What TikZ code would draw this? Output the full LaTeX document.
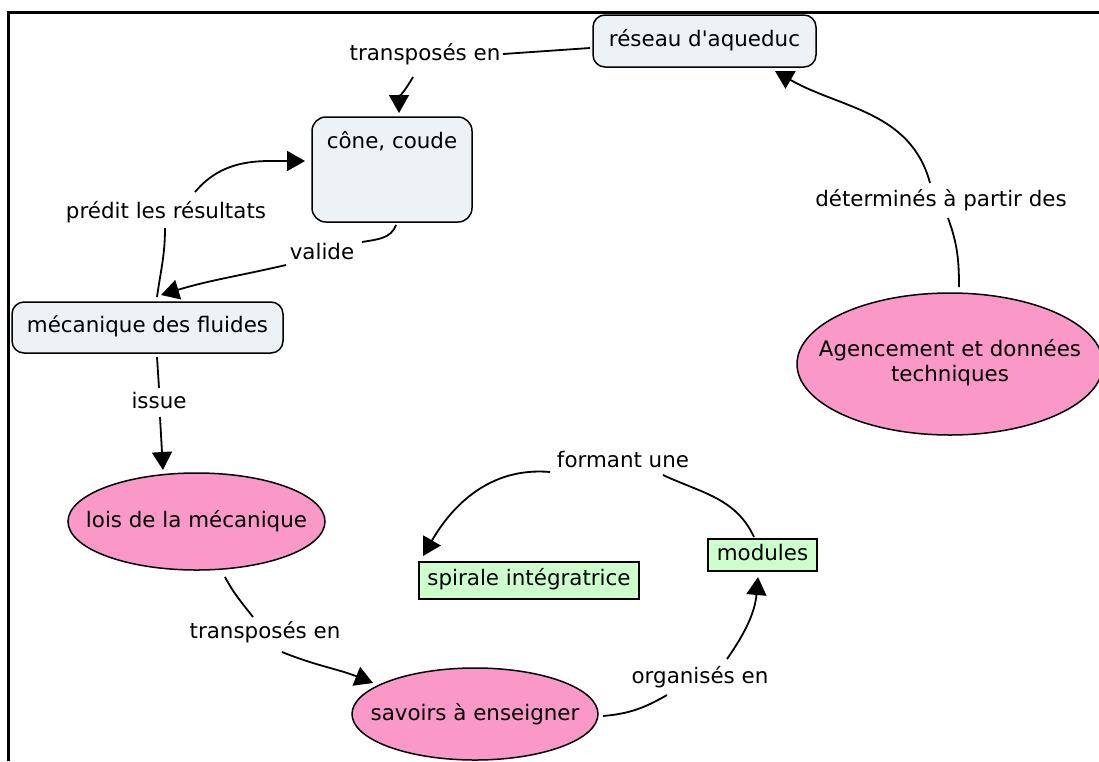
\documentclass[tikz,border=0pt]{standalone}
\usepackage{fontspec}
\setmainfont{DejaVu Sans}[Ligatures=TeXOff]
\usetikzlibrary{arrows.meta,shapes.geometric,calc}
\definecolor{boxfill}{RGB}{236,242,245}
\definecolor{pinkfill}{RGB}{250,152,200}
\definecolor{greenfill}{RGB}{204,255,204}
\begin{document}
\begin{tikzpicture}[x=1pt,y=1pt,
  every node/.style={font=\fontsize{21.4}{25}\selectfont},
  cbox/.style={draw, line width=1.5pt, rounded corners=12pt, fill=boxfill,
    inner sep=2pt, text height=15pt, text depth=5pt},
  coval/.style={draw, line width=1.5pt, ellipse, fill=pinkfill, inner sep=0pt},
  ctag/.style={draw, line width=1.5pt, fill=greenfill, inner sep=2pt,
    text height=15pt, text depth=5pt},
  lab/.style={inner sep=0pt, text height=15pt, text depth=5pt},
  conn/.style={line width=1.8pt},
  conarr/.style={conn, -{Triangle[length=18pt,width=20pt]}}]

\useasboundingbox (0,0) rectangle (1099,-761);

% frame
\draw[line width=2.7pt] (8.5,-761) -- (8.5,-12.3) -- (1099,-12.3);

% concepts
\node[cbox, minimum width=223pt, minimum height=52pt] (reseau) at (704.5,-41) {réseau d'aqueduc};
\node[cbox, minimum width=160pt, minimum height=105pt, inner sep=10pt,
      text height=21pt, text depth=64pt, rounded corners=14pt] (cone) at (392,-169.5) {cône, coude};
\node[cbox, minimum width=271pt, minimum height=51pt] (meca) at (147.5,-327.5) {mécanique des fluides};
\node[coval, minimum width=257pt, minimum height=97pt] (lois) at (196.5,-521.5) {\makebox[0pt]{lois de la mécanique}};
\node[coval, minimum width=246pt, minimum height=92pt] (savoirs) at (475,-714) {\makebox[0pt]{savoirs à enseigner}};
\node[coval, minimum width=306pt, minimum height=142pt] (agence) at (950,-364)
  {\makebox[0pt]{\begin{tabular}{@{}c@{}}Agencement et données\\ techniques\end{tabular}}};
\node[ctag, minimum width=109pt, minimum height=32pt] (modules) at (762.5,-555) {modules};
\node[ctag, minimum width=220pt, minimum height=37pt] (spirale) at (529,-580.5) {spirale intégratrice};

% linking phrases
\node[lab] (l1) at (425,-55) {transposés en};
\node[lab] (det) at (941,-201) {déterminés à partir des};
\node[lab] (pred) at (166,-213) {prédit les résultats};
\node[lab] (val) at (322,-254) {valide};
\node[lab] (iss) at (159,-403) {issue};
\node[lab] (l3) at (265,-633.5) {transposés en};
\node[lab] (org) at (700,-678) {organisés en};
\node[lab] (form) at (623,-462) {formant une};

% connectors
\draw[conn] ($(reseau)+(-114.5,-7)$) -- ($(l1)+(78,1)$);
\draw[conarr] ($(l1)+(-12,-22)$) to[out=-120,in=90] ($(cone)+(7,56.5)$);

\draw[conn] ($(agence)+(9,77)$) to[out=90,in=-70] ($(det)+(7,-17)$);
\draw[conarr] ($(det)+(-11,18)$) to[out=105,in=-30] ($(reseau)+(70.5,-30)$);

\draw[conn] ($(meca)+(9.5,30.5)$) to[out=82,in=-90] ($(pred)+(-1,-15)$);
\draw[conarr] ($(pred)+(29,21)$) to[out=50,in=180] ($(cone)+(-87,8.5)$);

\draw[conn] ($(cone)+(4,-55.5)$) to[out=-110,in=10] ($(val)+(40,12)$);
\draw[conarr] ($(val)+(-36,-11)$) to[out=193,in=17] ($(meca)+(13.5,32.5)$);

\draw[conn] ($(meca)+(9.5,-29.5)$) -- ($(iss)+(0,15)$);
\draw[conarr] ($(iss)+(1,-14)$) -- ($(lois)+(-33.5,51.5)$);

\draw[conn] ($(lois)+(28.5,-55.5)$) to[out=-62,in=128] ($(l3)+(-12,16.5)$);
\draw[conarr] ($(l3)+(17,-18.5)$) to[out=-22,in=158] ($(savoirs)+(-102,31)$);

\draw[conn] ($(savoirs)+(128,-2)$) to[out=5,in=-150] ($(org)+(-33,-17)$);
\draw[conarr] ($(org)+(27,19)$) to[out=55,in=-95] ($(modules)+(-4.5,-22)$);

\draw[conn] ($(modules)+(-8.5,18)$) to[out=115,in=-25] ($(form)+(40,-13)$);
\draw[conarr] ($(form)+(-73,-10)$) to[out=175,in=60] ($(spirale)+(-106,24.5)$);
\end{tikzpicture}
\end{document}
